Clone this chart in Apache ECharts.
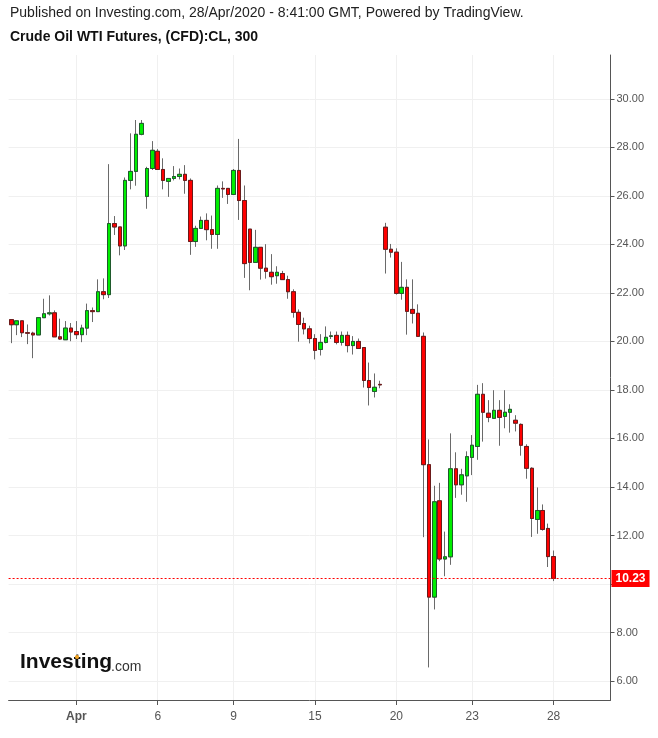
<!DOCTYPE html>
<html><head><meta charset="utf-8">
<script src="https://cdn.jsdelivr.net/npm/echarts@6/dist/echarts.min.js"></script>
<style>html,body{margin:0;padding:0;background:#fff}#c{width:658px;height:738px}</style>
</head><body><div id="c"></div>
<script>
// ---- data ----
const opens  = [20.90,20.69,20.85,20.36,20.34,20.27,20.98,21.14,21.18,20.19,20.07,20.55,20.41,20.28,20.55,21.27,21.23,22.05,21.93,24.86,
                24.72,23.94,26.64,27.01,28.54,25.98,27.13,27.84,27.09,26.60,26.72,26.80,26.89,26.64,24.12,24.66,24.99,24.61,24.41,26.31,
                26.31,26.06,27.05,25.81,24.63,23.26,23.88,23.02,22.85,22.71,22.80,22.55,22.05,21.20,20.74,20.52,20.12,19.67,19.96,20.21,
                20.25,19.96,20.25,19.83,20.00,19.75,18.39,17.94,18.23,24.71,23.80,23.68,21.98,22.23,21.32,21.16,20.21,14.92,9.46,13.43,
                11.03,11.12,14.75,14.09,14.46,15.22,15.67,17.82,17.04,16.83,17.16,16.91,17.08,16.75,16.58,15.67,14.77,12.66,13.03,12.29,
                11.13];
const closes = [20.69,20.85,20.36,20.34,20.27,20.98,21.14,21.18,20.19,20.10,20.55,20.39,20.28,20.55,21.27,21.23,22.05,21.93,24.86,24.72,
                23.94,26.64,27.01,28.54,28.99,27.13,27.88,27.09,26.64,26.72,26.80,26.89,26.64,24.12,24.66,24.99,24.61,24.41,26.31,26.29,
                26.06,27.05,25.81,23.21,23.26,23.88,23.02,22.89,22.67,22.85,22.55,22.05,21.20,20.70,20.52,20.12,19.63,19.96,20.17,20.23,
                19.96,20.25,19.83,20.00,19.71,18.39,18.10,18.11,18.21,23.80,23.68,21.98,22.23,21.24,21.16,20.21,14.92,9.46,13.39,11.03,
                11.12,14.75,14.09,14.50,15.25,15.72,17.82,17.08,16.87,17.16,16.87,17.08,17.20,16.63,15.72,14.77,12.70,13.03,12.25,11.13,
                10.23];
const lows   = [19.93,20.26,20.18,19.89,19.31,20.27,20.98,21.07,20.19,20.07,20.07,20.01,20.10,19.97,20.26,20.80,21.23,21.74,21.79,24.39,
                23.55,23.77,26.27,26.42,28.50,25.47,27.07,27.09,26.27,25.96,26.64,26.68,26.09,23.57,23.90,24.66,24.17,23.82,23.82,25.92,
                25.67,26.06,25.01,22.62,22.11,23.26,22.55,22.59,22.34,22.38,22.55,21.76,20.98,19.99,20.29,19.92,19.26,19.42,19.92,20.10,
                19.88,19.83,19.55,19.46,19.71,18.10,17.36,17.69,18.07,22.80,23.46,21.93,21.72,20.28,20.74,20.21,11.93,6.56,8.95,10.94,
                10.32,10.79,13.55,13.68,13.39,14.49,15.12,15.87,16.67,16.82,15.70,16.42,16.24,16.29,15.29,14.34,11.94,12.07,12.20,10.70,
                10.12];
const highs  = [20.90,20.85,20.85,20.70,20.40,20.98,21.76,21.90,21.28,20.94,20.84,20.76,20.84,20.69,21.56,21.40,22.56,22.60,27.31,25.17,
                24.72,26.76,28.58,29.13,29.13,27.20,28.26,27.93,27.55,26.72,27.23,27.13,27.27,26.72,24.77,25.15,25.28,25.19,26.43,26.60,
                26.31,27.11,28.35,26.43,24.63,24.60,23.88,24.01,23.60,23.10,22.91,22.71,22.15,21.32,20.98,20.65,20.30,20.30,20.62,20.41,
                20.41,20.41,20.41,20.22,20.12,19.75,19.13,18.68,18.38,24.89,24.02,23.84,23.28,22.56,22.56,21.53,20.37,15.96,14.05,14.17,
                12.16,16.21,15.43,14.75,15.47,16.14,18.21,18.28,17.58,17.99,17.58,17.99,17.41,16.96,16.62,15.76,14.81,13.98,13.28,12.49,
                11.38];
const tickLabels = ['Apr', '6', '9', '15', '20', '23', '28'];
const tickIndex  = [12, 27, 41, 56, 71, 85, 100];
const priceTicks = [6, 8, 10, 12, 14, 16, 18, 20, 22, 24, 26, 28, 30];
const lastPrice  = 10.23;
const emptySlots = 10;

// ---- build ----
const total = opens.length + emptySlots;
const categories = [];
for (let i = 0; i < total; i++) {
  const k = tickIndex.indexOf(i);
  categories.push(k >= 0 ? tickLabels[k] : '');
}
const isTick = (i) => tickIndex.indexOf(i) >= 0;
const wickData = opens.map((o, i) => [o, closes[i], lows[i], highs[i]]);
const bodyData = opens.map((o, i) => [o, closes[i], Math.min(o, closes[i]), Math.max(o, closes[i])]);

const chart = echarts.init(document.getElementById('c'), null, {renderer: 'canvas'});
const FONT = '"Liberation Sans", Arial, sans-serif';
chart.setOption({
  animation: false,
  backgroundColor: '#fff',
  textStyle: {fontFamily: FONT},
  grid: {left: 8.6, right: 47.5, top: 55, bottom: 38, containLabel: false},
  xAxis: {
    type: 'category', data: categories, boundaryGap: true,
    axisLine: {lineStyle: {color: '#555', width: 1}},
    axisTick: {show: true, alignWithLabel: true, interval: (i) => isTick(i), length: 5, lineStyle: {color: '#555'}},
    axisLabel: {
      interval: (i) => isTick(i), margin: 11, color: '#555', fontSize: 12, fontFamily: FONT,
      formatter: (v) => v === 'Apr' ? '{b|Apr}' : v,
      rich: {b: {fontWeight: 'bold', color: '#555', fontSize: 12, fontFamily: FONT}}
    },
    splitLine: {show: true, alignWithLabel: true, interval: (i) => isTick(i), lineStyle: {color: '#f0f0f0', width: 1}}
  },
  yAxis: {
    type: 'value', position: 'right', scale: true, min: 5.217, max: 31.81,
    axisLine: {show: true, lineStyle: {color: '#555', width: 1}},
    axisTick: {show: true, length: 4, customValues: priceTicks, lineStyle: {color: '#555'}},
    axisLabel: {customValues: priceTicks, color: '#555', fontSize: 11, fontFamily: FONT, margin: 6,
      formatter: (v) => Number(v).toFixed(2)},
    splitLine: {show: true, lineStyle: {color: '#f0f0f0', width: 1}}
  },
  series: [
    {
      type: 'candlestick', name: 'wick', data: wickData, barWidth: 4, z: 2,
      itemStyle: {color: 'rgba(0,0,0,0)', color0: 'rgba(0,0,0,0)', borderColor: '#6a6a6a', borderColor0: '#6a6a6a', borderWidth: 1},
      emphasis: {disabled: true}, silent: true
    },
    {
      type: 'candlestick', name: 'body', data: bodyData, barWidth: 4, z: 3,
      itemStyle: {color: '#00ee00', color0: '#ff0000', borderColor: '#1f5a2c', borderColor0: '#6b1a1a', borderWidth: 1},
      emphasis: {disabled: true}, silent: true,
      markLine: {
        silent: true, symbol: ['none', 'none'], animation: false,
        data: [{yAxis: lastPrice}],
        lineStyle: {color: '#ff0000', type: [2, 2], width: 1},
        label: {show: true, position: 'end', distance: 1, formatter: lastPrice.toFixed(2),
          backgroundColor: '#ff0000', color: '#fff', fontWeight: 'bold', fontSize: 12, fontFamily: FONT, padding: [3, 4, 2, 4]},
        emphasis: {disabled: true}
      }
    }
  ],
  graphic: [
    {type: 'text', left: 10, top: 6, style: {text: 'Published on Investing.com, 28/Apr/2020 - 8:41:00 GMT, Powered by TradingView.', font: '14px ' + FONT, fill: '#222'}},
    {type: 'text', left: 10, top: 30, style: {text: 'Crude Oil WTI Futures, (CFD):CL, 300', font: 'bold 14px ' + FONT, fill: '#111'}},
    {type: 'text', x: 20, y: 673, style: {text: 'Investing', font: 'bold 21px ' + FONT, fill: '#111', verticalAlign: 'bottom'}, z: 10},
    {type: 'text', x: 111, y: 674, style: {text: '.com', font: '14px ' + FONT, fill: '#333', verticalAlign: 'bottom'}, z: 10},
    {type: 'circle', shape: {cx: 77, cy: 657, r: 2}, style: {fill: '#f5a623'}, z: 11}
  ]
});
</script></body></html>
